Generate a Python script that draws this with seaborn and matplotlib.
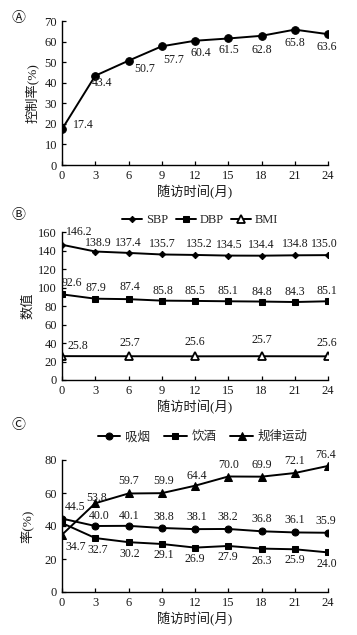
import matplotlib
matplotlib.use("Agg")
import matplotlib.pyplot as plt
import seaborn as sns

# ---------------- data ----------------
months = [0, 3, 6, 9, 12, 15, 18, 21, 24]
xticks = [0, 3, 6, 9, 12, 15, 18, 21, 24]

control_rate = [17.4, 43.4, 50.7, 57.7, 60.4, 61.5, 62.8, 65.8, 63.6]

sbp = [146.2, 138.9, 137.4, 135.7, 135.2, 134.5, 134.4, 134.8, 135.0]
dbp = [92.6, 87.9, 87.4, 85.8, 85.5, 85.1, 84.8, 84.3, 85.1]
bmi_months = [0, 6, 12, 18, 24]
bmi = [25.8, 25.7, 25.6, 25.7, 25.6]

smoking = [44.5, 40.0, 40.1, 38.8, 38.1, 38.2, 36.8, 36.1, 35.9]
drinking = [41.8, 32.7, 30.2, 29.1, 26.9, 27.9, 26.3, 25.9, 24.0]
drinking_labels = [None, "32.7", "30.2", "29.1", "26.9", "27.9", "26.3", "25.9", "24.0"]
exercise = [34.7, 53.8, 59.7, 59.9, 64.4, 70.0, 69.9, 72.1, 76.4]

xlabel = "随访时间(月)"
ylabel_a = "控制率(%)"
ylabel_b = "数值"
ylabel_c = "率(%)"
legend_b = ["SBP", "DBP", "BMI"]
legend_c = ["吸烟", "饮酒", "规律运动"]
panel_tags = ["Ⓐ", "Ⓑ", "Ⓒ"]

# ---------------- style ----------------
sns.set_theme(style="ticks")
FONTS = ["Liberation Serif", "Noto Sans CJK SC", "DejaVu Sans"]
plt.rcParams["font.family"] = FONTS
plt.rcParams["axes.unicode_minus"] = False
FS_TICK = 9
FS_DATA = 8.6
FS_LAB = 9.5
TXT = "#1a1a1a"

fig = plt.figure(figsize=(3.57, 6.35), dpi=100)

L, W = 62 / 357, 266 / 357
def frac(top_px, bottom_px):
    return [L, 1 - bottom_px / 635, W, (bottom_px - top_px) / 635]

axA = fig.add_axes(frac(21, 165))
axB = fig.add_axes(frac(232, 380))
axC = fig.add_axes(frac(460, 592))

def style_axis(ax, ymax, ystep, ylab, ylab_x, xlab_y):
    ax.set_xlim(0, 24)
    ax.set_ylim(0, ymax)
    ax.set_xticks(xticks)
    ax.set_yticks(range(0, ymax + 1, ystep))
    for s in ["top", "right"]:
        ax.spines[s].set_visible(False)
    for s in ["left", "bottom"]:
        ax.spines[s].set_color("black")
        ax.spines[s].set_linewidth(1.0)
    ax.tick_params(direction="in", length=3, width=0.9, colors="black",
                   labelcolor=TXT, labelsize=FS_TICK, pad=3.5)
    for lab in ax.get_xticklabels() + ax.get_yticklabels():
        lab.set_fontfamily(FONTS)
    ax.set_ylabel(ylab, fontsize=FS_LAB, family=FONTS, color=TXT)
    ax.yaxis.set_label_coords(ylab_x, 0.5)
    ax.set_xlabel(xlabel, fontsize=FS_LAB, family=FONTS, color=TXT, va="top")
    ax.xaxis.set_label_coords(0.5, xlab_y)
    ax.set_facecolor("white")
    ax.grid(False)

def annotate(ax, xs, ys, labels, offsets):
    for x, y, t, (dx, dy) in zip(xs, ys, labels, offsets):
        if t is None:
            continue
        ax.annotate(t, (x, y), xytext=(dx, dy), textcoords="offset pixels",
                    ha="center", va="center", fontsize=FS_DATA, family=FONTS,
                    color=TXT, annotation_clip=False)

LW = 1.4

# ---------------- Panel A ----------------
sns.lineplot(x=months, y=control_rate, ax=axA, color="black", linewidth=LW,
             marker="o", markersize=5.5, markeredgecolor="black")
style_axis(axA, 70, 10, ylabel_a, -0.088, -0.139)
offA = [(21, 4), (7, -7), (16, -8), (12, -14), (6, -12), (1, -12), (0, -14), (0, -13), (-1, -13)]
annotate(axA, months, control_rate, [f"{v:.1f}" for v in control_rate], offA)

# ---------------- Panel B ----------------
sns.lineplot(x=months, y=sbp, ax=axB, color="black", linewidth=LW,
             marker="D", markersize=3.2, markeredgecolor="black", label=legend_b[0])
sns.lineplot(x=months, y=dbp, ax=axB, color="black", linewidth=LW,
             marker="s", markersize=5, markeredgecolor="black", label=legend_b[1])
sns.lineplot(x=bmi_months, y=bmi, ax=axB, color="black", linewidth=LW,
             marker="^", markersize=5.5, markerfacecolor="white",
             markeredgecolor="black", markeredgewidth=1.3, label=legend_b[2])
style_axis(axB, 160, 20, ylabel_b, -0.105, -0.135)
offS = [(17, 13), (3, 9), (0, 10), (1, 10), (4, 11), (1, 11), (0, 11), (1, 11), (-4, 11)]
offD = [(10, 11), (1, 11), (1, 12), (1, 10), (0, 10), (0, 10), (0, 10), (0, 10), (-1, 10)]
offM = [(16, 10), (1, 13), (0, 14), (0, 16), (-1, 13)]
annotate(axB, months, sbp, [f"{v:.1f}" for v in sbp], offS)
annotate(axB, months, dbp, [f"{v:.1f}" for v in dbp], offD)
annotate(axB, bmi_months, bmi, [f"{v:.1f}" for v in bmi], offM)
axB.legend(loc="center", bbox_to_anchor=(0.52, 1.08), ncol=3, frameon=False,
           handlelength=1.6, handletextpad=0.3, columnspacing=0.6,
           borderaxespad=0, prop={"family": FONTS, "size": FS_TICK})

# ---------------- Panel C ----------------
sns.lineplot(x=months, y=smoking, ax=axC, color="black", linewidth=LW,
             marker="o", markersize=5, markeredgecolor="black", label=legend_c[0])
sns.lineplot(x=months, y=drinking, ax=axC, color="black", linewidth=LW,
             marker="s", markersize=5, markeredgecolor="black", label=legend_c[1])
sns.lineplot(x=months, y=exercise, ax=axC, color="black", linewidth=LW,
             marker="^", markersize=5.5, markeredgecolor="black", label=legend_c[2])
style_axis(axC, 80, 20, ylabel_c, -0.107, -0.152)
offSm = [(13, 12), (4, 10), (1, 10), (2, 11), (2, 12), (0, 12), (0, 12), (0, 12), (-2, 12)]
offDr = [(0, 0), (3, -12), (1, -12), (2, -11), (0, -11), (0, -11), (0, -12), (0, -11), (-1, -12)]
offEx = [(14, -12), (1, 5), (0, 12), (2, 12), (2, 10), (0, 12), (0, 12), (0, 12), (-2, 11)]
annotate(axC, months, smoking, [f"{v:.1f}" for v in smoking], offSm)
annotate(axC, months, drinking, drinking_labels, offDr)
annotate(axC, months, exercise, [f"{v:.1f}" for v in exercise], offEx)
axC.legend(loc="center", bbox_to_anchor=(0.53, 1.174), ncol=3, frameon=False,
           handlelength=1.8, handletextpad=0.4, columnspacing=1.1,
           borderaxespad=0, prop={"family": FONTS, "size": FS_TICK})

# ---------------- panel tags ----------------
for tag, ypx in zip(panel_tags, [18, 215, 425]):
    fig.text(18 / 357, 1 - ypx / 635, tag, ha="center", va="center",
             fontsize=10, family=["DejaVu Sans", "Noto Sans CJK SC"], color=TXT)

fig.savefig("out.png", dpi=100, facecolor="white")
